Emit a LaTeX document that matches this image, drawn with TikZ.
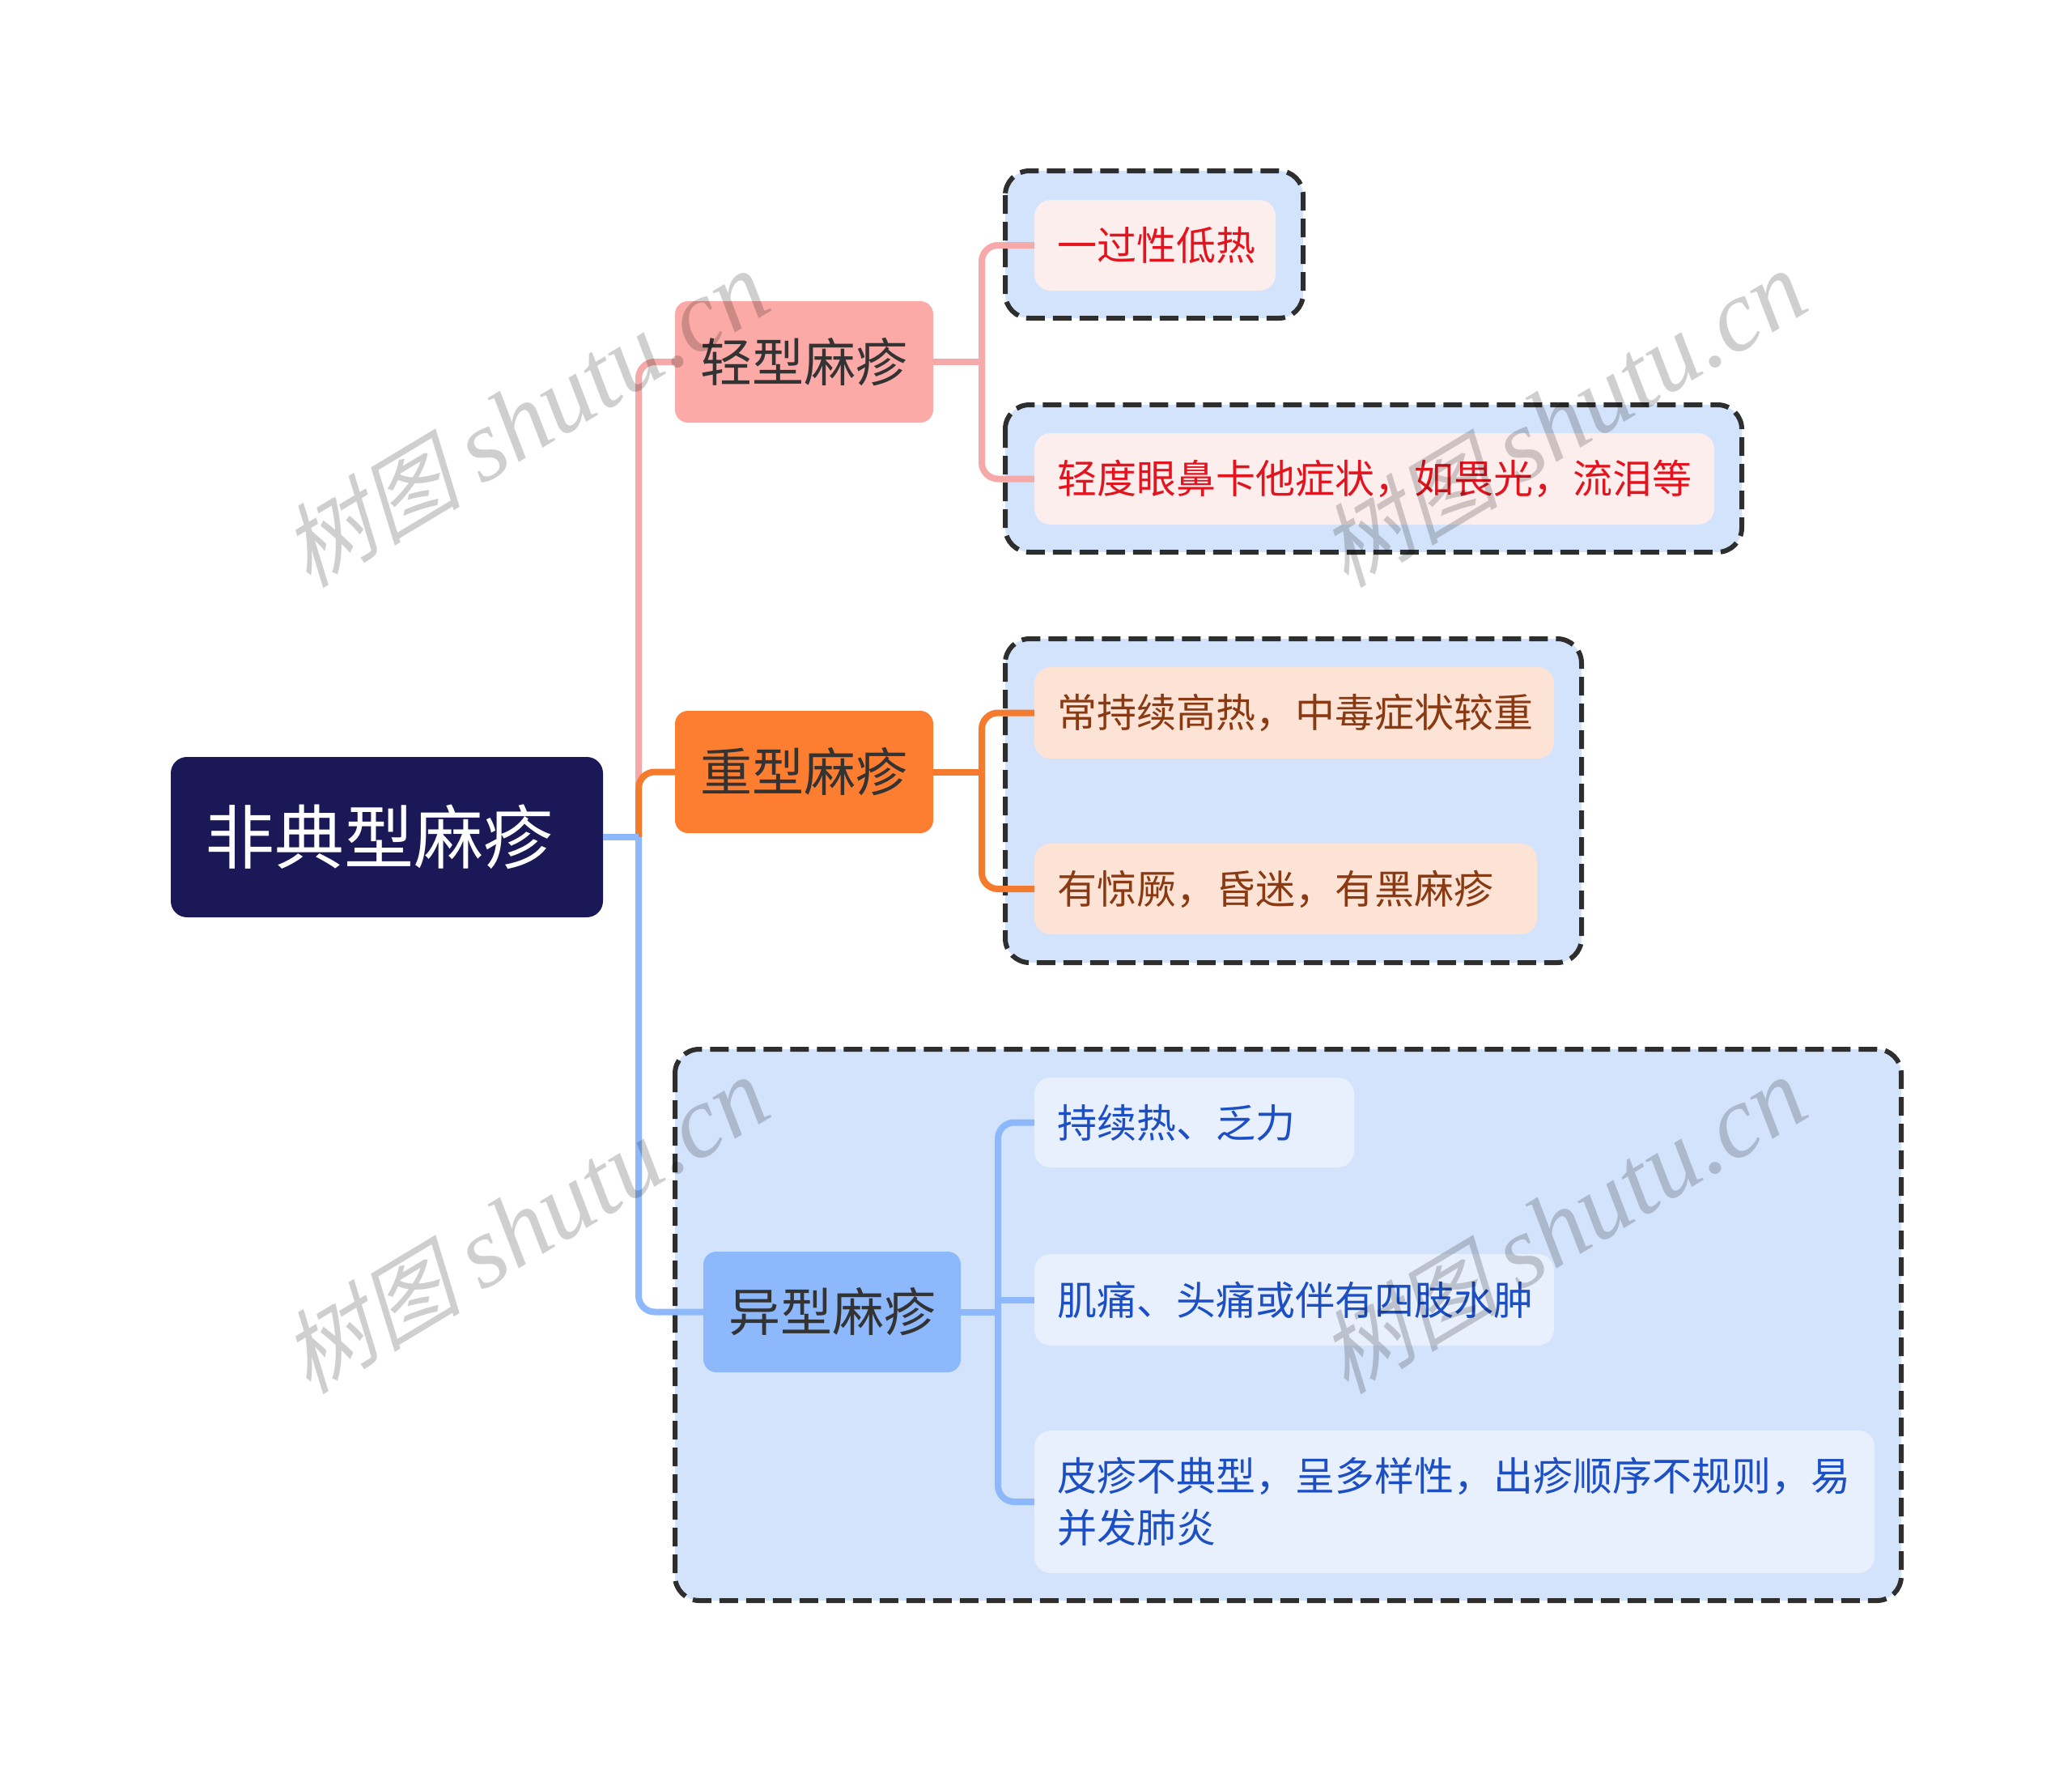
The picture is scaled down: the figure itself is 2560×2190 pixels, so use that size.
\documentclass[tikz,border=0pt]{standalone}
\usepackage{fontspec}
\newfontfamily\cjk{Noto Sans CJK SC}
\newfontfamily\wmcjk[FakeSlant=0.25]{Noto Sans CJK SC}
\newfontfamily\wmlat{Liberation Serif}
\usetikzlibrary{calc}
\definecolor{rootfill}{HTML}{1A1856}
\definecolor{lvltext}{HTML}{333333}
\definecolor{pinkfill}{HTML}{FCAAA7}
\definecolor{orangefill}{HTML}{FD7E31}
\definecolor{bluefill}{HTML}{8DB8FB}
\definecolor{pinkc}{HTML}{F5A9A8}
\definecolor{orangec}{HTML}{F47A2E}
\definecolor{bluec}{HTML}{8DB8FB}
\definecolor{groupfill}{HTML}{D4E3FC}
\definecolor{groupline}{HTML}{2E2E2E}
\definecolor{pleaffill}{HTML}{FDEEEE}
\definecolor{pleaftext}{HTML}{E3141E}
\definecolor{oleaffill}{HTML}{FDE3D6}
\definecolor{oleaftext}{HTML}{8A3A12}
\definecolor{bleaffill}{HTML}{E8EFFD}
\definecolor{bleaftext}{HTML}{1C4EC4}
\begin{document}
\begin{tikzpicture}[x=0.5pt,y=-0.5pt,
  every node/.style={inner sep=0pt, outer sep=0pt},
  rootbox/.style={fill=rootfill, text=white, rounded corners=10pt, font=\cjk\fontsize{43}{50}\selectfont, anchor=north west, align=left, inner xsep=21pt},
  lvlbox/.style={rounded corners=8pt, text=lvltext, font=\cjk\fontsize{32}{38}\selectfont, anchor=north west},
  leafbox/.style={rounded corners=10pt, font=\cjk\fontsize{24.5}{32}\selectfont, anchor=north west, align=left, inner xsep=14pt},
  pleaf/.style={leafbox, fill=pleaffill, text=pleaftext},
  oleaf/.style={leafbox, fill=oleaffill, text=oleaftext},
  bleaf/.style={leafbox, fill=bleaffill, text=bleaftext},
  groupbox/.style={fill=groupfill, draw=groupline, line width=3pt, dash pattern=on 11.5pt off 5pt, rounded corners=15pt},
  link/.style={line width=4pt},
  wm/.style={text=black, text opacity=0.19, rotate=31, inner sep=0pt}
]
\useasboundingbox (0,0) rectangle (2560,2190);

% dashed groups
\path[groupbox] (1242,211) rectangle (1610,393);
\path[groupbox] (1242,500) rectangle (2152,682);
\path[groupbox] (1242,789) rectangle (1954,1189);
\path[groupbox] (834,1296) rectangle (2349,1977);

% nodes
\node[rootbox, text width=225pt, minimum height=99pt] (root) at (211,935) {非典型麻疹};
\node[lvlbox, fill=pinkfill, minimum width=159.5pt, minimum height=75pt] (n1) at (834,372) {轻型麻疹};
\node[lvlbox, fill=orangefill, minimum width=159.5pt, minimum height=75.5pt] (n2) at (834,878) {重型麻疹};
\node[lvlbox, fill=bluefill, minimum width=159pt, minimum height=74.5pt] (n3) at (869,1546) {异型麻疹};

\node[pleaf, text width=121pt, minimum height=56pt] (l1) at (1278,247) {一过性低热};
\node[pleaf, text width=392pt, minimum height=56.5pt] (l2) at (1278,535) {轻度眼鼻卡他症状，如畏光，流泪等};
\node[oleaf, text width=293pt, minimum height=56.5pt] (l3) at (1278,824) {常持续高热，中毒症状较重};
\node[oleaf, text width=282.5pt, minimum height=56pt] (l4) at (1278,1042) {有惊厥，昏迷，有黑麻疹};
\node[bleaf, text width=169.5pt, minimum height=55.5pt] (l5) at (1278,1331) {持续热、乏力};
\node[bleaf, text width=293pt, minimum height=56.5pt] (l6) at (1278,1549) {肌痛、头痛或伴有四肢水肿};
\node[bleaf, text width=491pt, minimum height=88pt] (l7) at (1278,1767) {皮疹不典型，呈多样性，出疹顺序不规则，易\\并发肺炎};

% connectors root -> level 1
\path (root.east) -- ++(44,0) coordinate (t0);
\draw[link, pinkc] (root.east) -- (t0);
\draw[link, pinkc, rounded corners=10pt] (t0) |- (n1.west);
\draw[link, orangec] (root.east) -- (t0);
\draw[link, orangec, rounded corners=10pt] (t0) |- (n2.west);
\draw[link, bluec] (root.east) -- (t0);
\draw[link, bluec, rounded corners=10pt] (t0) |- (n3.west);

% level 1 -> leaves
\draw[link, pinkc] (n1.east) -- ++(60,0) coordinate (j1);
\draw[link, pinkc, rounded corners=10pt] (j1) |- (l1.west);
\draw[link, pinkc, rounded corners=10pt] (j1) |- (l2.west);

\draw[link, orangec] (n2.east) -- ++(60,0) coordinate (j2);
\draw[link, orangec, rounded corners=10pt] (j2) |- (l3.west);
\draw[link, orangec, rounded corners=10pt] (j2) |- (l4.west);

\draw[link, bluec] (n3.east) -- ++(46,0) coordinate (j3);
\draw[link, bluec, rounded corners=10pt] (j3) |- (l5.west);
\draw[link, bluec] (j3) |- (l6.west);
\draw[link, bluec, rounded corners=10pt] (j3) |- (l7.west);

% watermarks
\newcommand\wmtext{{\wmcjk\fontsize{56}{60}\selectfont 树图}\hspace{13pt}{\wmlat\itshape\fontsize{63}{66}\selectfont shutu.cn}}
\node[wm] (w1) at (648,518) {\wmtext};
\node[wm] (w2) at (1930,518) {\wmtext};
\node[wm] (w3) at (648,1514) {\wmtext};
\node[wm] (w4) at (1930,1514) {\wmtext};
\end{tikzpicture}
\end{document}
